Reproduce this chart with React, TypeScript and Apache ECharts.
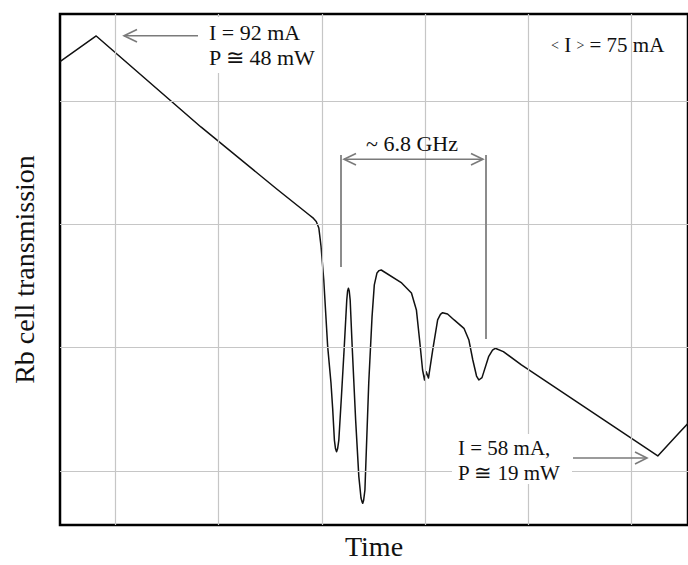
import React, { useEffect, useRef } from "react";
import * as echarts from "echarts";

// Time in screen divisions, transmission in screen divisions
const time = [0.462, 0.813, 1.828, 2.563, 2.879, 2.92, 2.946, 2.971, 2.993, 3.019, 3.057, 3.089, 3.105, 3.122, 3.133, 3.143, 3.153, 3.165, 3.19, 3.216, 3.242, 3.25, 3.258, 3.266, 3.275, 3.296, 3.328, 3.359, 3.38, 3.39, 3.397, 3.405, 3.418, 3.455, 3.487, 3.509, 3.535, 3.555, 3.576, 3.774, 3.869, 3.917, 3.948, 3.977, 3.996, 4.012, 4.034, 4.075, 4.123, 4.15, 4.171, 4.219, 4.283, 4.378, 4.426, 4.464, 4.5, 4.522, 4.553, 4.617, 4.655, 4.681, 4.76, 4.935, 6.257, 6.46, 6.6];
const transmission = [4.32, 4.528, 3.79, 3.287, 3.076, 3.048, 3.024, 2.971, 2.819, 2.549, 2.008, 1.714, 1.511, 1.251, 1.18, 1.157, 1.18, 1.251, 1.6, 1.981, 2.387, 2.46, 2.482, 2.46, 2.387, 1.981, 1.414, 0.954, 0.781, 0.75, 0.738, 0.76, 0.846, 1.714, 2.251, 2.509, 2.606, 2.625, 2.63, 2.525, 2.444, 2.306, 2.062, 1.819, 1.738, 1.805, 1.754, 1.981, 2.225, 2.27, 2.284, 2.273, 2.225, 2.157, 2.062, 1.9, 1.77, 1.738, 1.757, 1.927, 1.98, 1.995, 1.968, 1.86, 1.122, 1.306, 1.43];

const verticalGrid = [1, 2, 3, 4, 5, 6];
const horizontalGrid = [1, 2, 3, 4];

const FONT = "Liberation Serif, Times New Roman, serif";
const ARROW = "#7a7a7a";

export default function App() {
  const ref = useRef<HTMLDivElement>(null);
  useEffect(() => {
    if (!ref.current) return;
    const chart = echarts.init(ref.current, undefined, { renderer: "svg" });
    const txt = (x: number, y: number, text: string, extra: any = {}) => ({
      type: "text",
      x,
      y,
      z: 20,
      style: {
        text,
        fill: "#111",
        fontFamily: FONT,
        fontSize: 22,
        lineHeight: 24,
        align: "left",
        verticalAlign: "middle",
        ...extra,
      },
    });
    const ln = (x1: number, y1: number, x2: number, y2: number, color = ARROW, w = 1.6) => ({
      type: "line",
      z: 20,
      shape: { x1, y1, x2, y2 },
      style: { stroke: color, lineWidth: w },
    });
    const head = (pts: number[][]) => ({
      type: "polyline",
      z: 20,
      shape: { points: pts },
      style: { stroke: ARROW, lineWidth: 1.6, fill: null },
    });
    chart.setOption({
      animation: false,
      backgroundColor: "#fff",
      grid: {
        left: 60,
        top: 14,
        width: 637,
        height: 511,
        show: true,
        borderColor: "#000",
        borderWidth: 2.5,
        backgroundColor: "transparent",
      },
      xAxis: {
        type: "value",
        min: 0.462,
        max: 6.55,
        name: "Time",
        nameLocation: "middle",
        nameGap: 7,
        nameTextStyle: { fontFamily: FONT, fontSize: 28, color: "#111", verticalAlign: "top" },
        axisLine: { show: false },
        axisTick: { show: false },
        axisLabel: { show: false },
        splitLine: { show: false },
      },
      yAxis: {
        type: "value",
        min: 0.562,
        max: 4.706,
        name: "Rb cell transmission",
        nameLocation: "middle",
        nameGap: 22,
        nameRotate: 90,
        nameTextStyle: { fontFamily: FONT, fontSize: 28, color: "#111" },
        axisLine: { show: false },
        axisTick: { show: false },
        axisLabel: { show: false },
        splitLine: { show: false },
      },
      series: [
        {
          type: "line",
          z: 1,
          data: [],
          silent: true,
          markLine: {
            silent: true,
            symbol: "none",
            label: { show: false },
            lineStyle: { color: "#c6c6c6", width: 1.2, type: "solid" },
            data: [
              ...verticalGrid.map((v) => ({ xAxis: v })),
              ...horizontalGrid.map((v) => ({ yAxis: v })),
            ],
          },
        },
        {
          type: "line",
          z: 3,
          data: time.map((t, i) => [t, transmission[i]]),
          showSymbol: false,
          smooth: false,
          lineStyle: { color: "#111", width: 1.5, join: "round" },
        },
      ],
      graphic: [
        { type: "rect", z: 10, shape: { x: 205, y: 17, width: 110, height: 56 }, style: { fill: "#fff" } },
        { type: "rect", z: 10, shape: { x: 452, y: 434, width: 120, height: 50 }, style: { fill: "#fff" } },
        ln(124, 35.7, 198, 35.7),
        head([[137, 29.5], [124, 35.7], [137, 42]]),
        txt(209, 32, "I = 92 mA"),
        txt(209, 57, "P ≅ 48 mW"),
        ln(341, 155, 341, 267, "#8c8c8c", 2),
        ln(486, 155, 486, 339, "#8c8c8c", 2),
        ln(344, 159.3, 483, 159.3),
        head([[356, 153.5], [344, 159.3], [356, 165]]),
        head([[471, 153.5], [483, 159.3], [471, 165]]),
        txt(412, 143, "~ 6.8 GHz", { align: "center" }),
        {
          type: "text",
          x: 551,
          y: 45,
          z: 20,
          style: {
            text: "{s|<} I {s|>} = 75 mA",
            fill: "#111",
            fontFamily: FONT,
            fontSize: 21,
            align: "left",
            verticalAlign: "middle",
            rich: { s: { fontSize: 14, fontFamily: FONT, fill: "#111" } },
          },
        },
        txt(458, 447.5, "I = 58 mA,", { fontSize: 21, lineHeight: 22 }),
        txt(458, 472.5, "P ≅ 19 mW", { fontSize: 21, lineHeight: 22 }),
        ln(573, 458, 647, 458),
        head([[635, 452], [647, 458], [635, 464]]),
      ],
    });
    return () => chart.dispose();
  }, []);
  return (
    <div
      ref={ref}
      style={{ position: "fixed", left: 0, top: 0, width: 688, height: 565, background: "#fff" }}
    />
  );
}
